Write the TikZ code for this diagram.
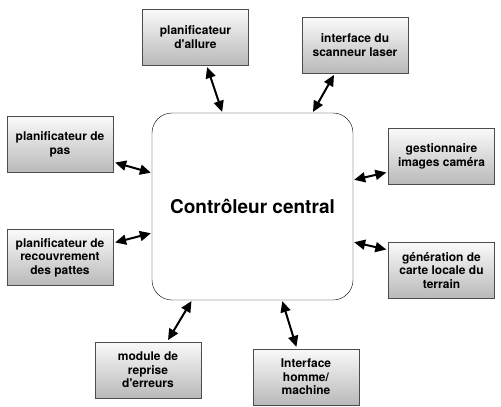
\documentclass[tikz,border=0pt]{standalone}
\usepackage{fontspec}
\setmainfont{TeX Gyre Heros}
\usepackage{tikz}
\usetikzlibrary{
    arrows.meta,
    positioning,
    shadings
}

\begin{document}
\begin{tikzpicture}[
    x=1pt, y=-1pt,
    module/.style={
        rectangle,
        draw=black!70,
        top color=gray!4,
        bottom color=gray!55,
        minimum width=106pt,
        minimum height=56pt,
        inner sep=2pt,
        align=center,
        font=\fontsize{12}{13.5}\selectfont\bfseries
    },
    central/.style={
        rectangle,
        draw=black,
        fill=white,
        rounded corners=20pt,
        minimum width=201pt,
        minimum height=187pt,
        font=\fontsize{19}{22}\selectfont\bfseries
    },
    link/.style={
        {Triangle[length=11pt,width=10pt]}-{Triangle[length=11pt,width=10pt]},
        line width=2pt,
        shorten <=2pt,
        shorten >=1pt
    }
]
\useasboundingbox (0,0) rectangle (501,407);

% Central controller
\node[central] (ctrl) at (252.5, 206.5) {Contrôleur central};

% Modules around it
\node[module] (allure) at (195.5, 37) {planificateur\\d\textquotesingle allure};
\node[module] (scanner) at (355, 45) {interface du\\scanneur laser};
\node[module] (pas) at (60, 144.5) {planificateur de\\pas};
\node[module] (pattes) at (60, 257.5) {planificateur de\\recouvrement\\des pattes};
\node[module] (camera) at (441.5, 156.5) {gestionnaire\\images caméra};
\node[module] (terrain) at (441.5, 270.5) {génération de\\carte locale du\\terrain};
\node[module] (reprise) at (148, 370) {module de\\reprise\\d\textquotesingle erreurs};
\node[module] (ihm) at (306, 377) {Interface\\homme/\\machine};

% Arrows
\draw[link] ([xshift=11pt]allure.south) -- ([xshift=-30pt]ctrl.north);
\draw[link] ([xshift=-20pt]scanner.south) -- ([xshift=60pt]ctrl.north);
\draw[link] ([yshift=-17.5pt]pas.east) -- ([yshift=33.5pt]ctrl.west);
\draw[link] ([yshift=14.5pt]pattes.east) -- ([yshift=-26.5pt]ctrl.west);
\draw[link] ([yshift=-15.5pt]camera.west) -- ([yshift=26.5pt]ctrl.east);
\draw[link] ([yshift=20.5pt]terrain.west) -- ([yshift=-35.5pt]ctrl.east);
\draw[link] ([xshift=19pt]reprise.north) -- ([xshift=-60.5pt]ctrl.south);
\draw[link] ([xshift=-9pt]ihm.north) -- ([xshift=29.5pt]ctrl.south);

\end{tikzpicture}
\end{document}
